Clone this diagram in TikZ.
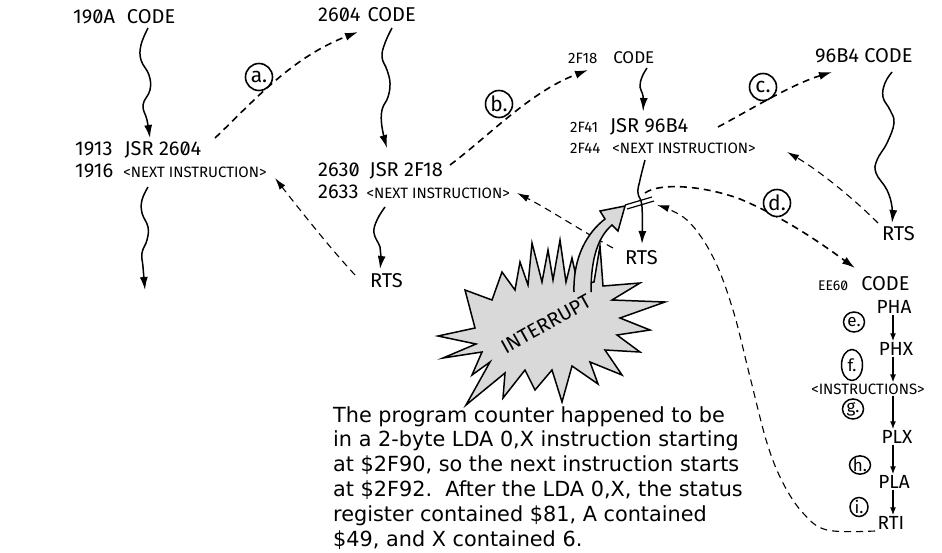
\documentclass[tikz,border=0pt]{standalone}
\usepackage{fontspec}
\setmainfont{DejaVu Sans}
\newfontfamily\hand[RawFeature=+zero]{Fira Sans}
\usetikzlibrary{arrows.meta,shapes.geometric}
\newcommand{\bigsz}{\fontsize{20}{20}\selectfont}
\newcommand{\sm}{\fontsize{15}{15}\selectfont}
\newcommand{\xs}{\fontsize{14}{14}\selectfont}
\newcommand{\col}{\fontsize{19}{19}\selectfont}
\tikzset{
 hw/.style={font=\hand\bigsz, inner sep=0pt, anchor=west},
 hc/.style={font=\hand\col, inner sep=1pt},
 flow/.style={line width=1.5pt, -{Latex[length=13pt,width=8pt]}},
 call/.style={line width=1.6pt, dash pattern=on 7pt off 5pt, -{Latex[length=13pt,width=8pt]}},
 ret/.style={line width=1.1pt, dash pattern=on 7pt off 5pt, -{Latex[length=12pt,width=7pt]}},
 lbl/.style={circle, draw, line width=1.6pt, minimum size=27pt, inner sep=0pt, fill=white,
   font=\hand\fontsize{21}{21}\selectfont},
 lbls/.style={ellipse, draw, line width=1.5pt, minimum width=21pt, minimum height=20pt, inner sep=0pt, fill=white,
   font=\hand\fontsize{17}{17}\selectfont},
 tinyarr/.style={line width=1.4pt, -{Latex[length=8pt,width=6pt]}},
 burst/.style={fill=black!15, draw=black, line width=1.5pt, line join=miter},
}
\begin{document}
\begin{tikzpicture}[x=1pt,y=-1pt]
\useasboundingbox (0,0) rectangle (942,552);

% ---------- hand-lettered code labels ----------
\node[hw] (c190A) at (73,17) {190A\hspace{12pt}CODE};
\node[hw] (c2604) at (318,15) {2604\hspace{7pt}CODE};
\node[hw] (j1913) at (75,150) {1913\hspace{12pt}JSR 2604};
\node[hw] (n1916) at (75,171) {1916\hspace{10pt}{\sm <NEXT INSTRUCTION>}};
\node[hw] (j2630) at (318,171) {2630\hspace{10pt}JSR 2F18};
\node[hw] (n2633) at (318,192) {2633\hspace{8pt}{\sm <NEXT INSTRUCTION>}};
\node[hw] (rtsA) at (370,281) {RTS};
\node[hw] (c2F18) at (568,58) {{\sm 2F18}\hspace{16pt}{\fontsize{17}{17}\selectfont CODE}};
\node[hw] (j2F41) at (570,127) {{\sm 2F41}\hspace{12pt}JSR 96B4};
\node[hw] (n2F44) at (570,148) {{\sm 2F44}\hspace{12pt}{\sm <NEXT INSTRUCTION>}};
\node[hw] (c96B4) at (815,56) {96B4 CODE};
\node[hw] (rtsC) at (882,234) {RTS};
\node[hw] (rtsB) at (625,258) {RTS};
\node[hw] (cEE60) at (818,284) {{\xs EE60}\hspace{13pt}CODE};
\node[hc] (pha) at (894,307) {PHA};
\node[hc] (phx) at (896,349) {PHX};
\node[hc] (instr) at (868,389) {\fontsize{15}{15}\selectfont <INSTRUCTIONS>};
\node[hc] (plx) at (897,437) {PLX};
\node[hc] (pla) at (894,482) {PLA};
\node[hc] (rti) at (891,523) {RTI};
\coordinate (colx) at (893,0);

% ---------- explanatory note ----------
\node[anchor=north west, inner sep=0pt, align=left,
      font=\fontsize{20.8}{24.8}\selectfont] (note) at (333,406)
 {The program counter happened to be\\
  in a 2-byte LDA 0,X instruction starting\\
  at \$2F90, so the next instruction starts\\
  at \$2F92.\ \ After the LDA 0,X, the status\\
  register contained \$81, A contained\\
  \$49, and X contained 6.};

% ---------- wavy flow arrows ----------
\draw[flow] plot[smooth, tension=0.7] coordinates
  {(148,28) (141,45) (141,60) (149,75) (150,90) (143,105) (147,120) (150,138)};
\draw[flow] plot[smooth, tension=0.7] coordinates
  {(148,187) (142,200) (142,213) (148,227) (147,240) (142,253) (143,267) (145,290)};
\draw[flow] plot[smooth, tension=0.7] coordinates
  {(392,28) (385,43) (382,57) (387,70) (390,83) (388,97) (382,110) (382,127) (387,148)};
\draw[flow] plot[smooth, tension=0.7] coordinates
  {(385,207) (377,220) (374,233) (380,247) (381,257) (380,269)};
\draw[flow] plot[smooth, tension=0.7] coordinates
  {(647,68) (642,77) (640,87) (643,96) (643,111)};
\draw[flow] plot[smooth, tension=0.7] coordinates
  {(892,72) (885,83) (883,97) (890,110) (894,123) (887,143) (877,160) (876,173) (887,190) (892,207) (892,223)};
\draw[flow] plot[smooth, tension=0.7] coordinates
  {(645,160) (640,180) (638,193) (642,207) (642,244)};

% ---------- return (thin dashed) arrows ----------
\coordinate (rA0) at (355,275);  \coordinate (rA1) at (275,178);
\coordinate (rB0) at (613,248);  \coordinate (rB1) at (517,193);
\coordinate (rC0) at (878,223);  \coordinate (rC1) at (787,152);
\draw[ret] (rA0) .. controls (330,248) and (300,210) .. (rA1);
\draw[ret] (rB0) .. controls (580,230) and (550,210) .. (rB1);
\draw[ret] (rC0) .. controls (850,195) and (815,168) .. (rC1);
\draw[ret] plot[smooth, tension=0.6] coordinates
  {(875,531) (827,530) (803,513) (783,483) (767,443) (750,377) (733,310) (713,257) (687,220) (657,205)};

% ---------- call (dashed) arrows ----------
\coordinate (a0) at (215,138); \coordinate (a1) at (358,32);
\coordinate (b0) at (450,165); \coordinate (b1) at (588,70);
\coordinate (cc0) at (718,127); \coordinate (cc1) at (832,72);
\coordinate (d0) at (645,193); \coordinate (d1) at (855,268);
\draw[call] (a0) .. controls (250,105) and (290,58) .. (a1);
\draw[call] (b0) .. controls (490,135) and (530,92) .. (b1);
\draw[call] (cc0) .. controls (750,110) and (790,85) .. (cc1);
\draw[call] (d0) .. controls (660,182) and (705,186) .. (740,199)
  .. controls (790,220) and (830,250) .. (d1);

% ---------- circled step labels ----------
\node[lbl] (la) at (259,77) {a.};
\node[lbl] (lb) at (499,104) {b.};
\node[lbl] (lc) at (763,87) {c.};
\node[lbl] (ld) at (777,203) {d.};
\node[lbls] (le) at (854,322) {e.};
\node[lbls, minimum height=31pt] (lf) at (852,365) {f.};
\node[lbls] (lg) at (853,409) {g.};
\node[lbls, minimum height=18pt] (lh) at (860,465) {h.};
\node[lbls, minimum width=18pt, minimum height=18pt] (li) at (859,507) {i.};

% ---------- EE60 column arrows ----------
\draw[tinyarr] (pha.south -| colx) -- (phx.north -| colx);
\draw[tinyarr] (phx.south -| colx) -- (instr.north -| colx);
\draw[tinyarr] (instr.south -| colx) -- (plx.north -| colx);
\draw[tinyarr] (plx.south -| colx) -- (pla.north -| colx);
\draw[tinyarr] (pla.south -| colx) -- (rti.north -| colx);

% ---------- interrupt burst ----------
\draw[burst] (438,336) -- (475,328) -- (465,290) -- (492,300) -- (502,272) -- (515,290)
  -- (520,262) -- (528,285) -- (532,243) -- (542,282) -- (548,250) -- (553,280)
  -- (560,240) -- (566,282) -- (572,258) -- (578,285)
  -- (594,282) -- (600,246) -- (603,286) -- (640,283) -- (612,300) -- (665,302)
  -- (620,318) -- (650,330) -- (617,335) -- (640,352) -- (605,350) -- (622,375)
  -- (590,362) -- (598,384) -- (572,366) -- (562,402) -- (552,370) -- (535,390)
  -- (525,370) -- (503,398) -- (505,373) -- (466,405) -- (490,362) -- (472,375)
  -- (482,352) -- (443,358) -- (476,344) -- cycle;
\node[font=\hand\fontsize{20}{20}\selectfont, rotate=29, inner sep=0pt] (intr) at (546,324) {INTERRUPT};

% gray curved arrow out of the burst
\draw[burst] (574,292) .. controls (573,256) and (588,232) .. (605,219)
  -- (600,211) -- (625,206) -- (618,231) -- (612,225)
  .. controls (598,237) and (591,258) .. (591,292);

% double-bar mark where the interrupt hit
\coordinate (m1) at (625,205); \coordinate (m2) at (652,197);
\coordinate (m3) at (627,209); \coordinate (m4) at (654,201);
\draw[line width=1.2pt] (m1) -- (m2);
\draw[line width=1.2pt] (m3) -- (m4);
\end{tikzpicture}
\end{document}
